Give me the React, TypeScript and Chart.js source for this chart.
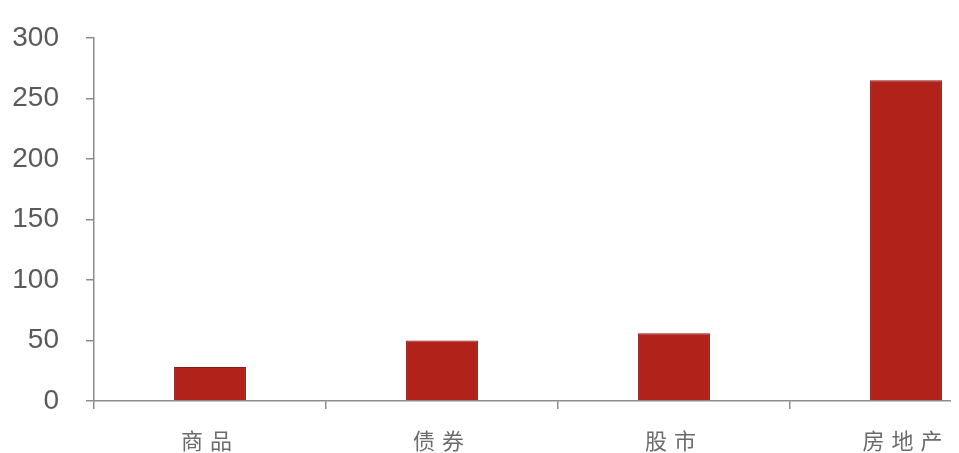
import { useEffect, useRef } from "react"
import { Chart, registerables } from "chart.js"

Chart.register(...registerables)

const categories = ["商品", "债券", "股市", "房地产"]
const values = [28, 50, 56, 265]
const yTicks = [0, 50, 100, 150, 200, 250, 300]

// spaces the x labels out a bit like the original's Song-style text
const spacingPlugin = {
  id: "labelSpacing",
  afterDatasetsDraw(chart: Chart) {
    ;(chart.ctx as any).letterSpacing = "7px"
  },
  afterDraw(chart: Chart) {
    ;(chart.ctx as any).letterSpacing = "0px"
  },
}

export default function App() {
  const canvasRef = useRef<HTMLCanvasElement>(null)
  const chartRef = useRef<Chart | null>(null)

  useEffect(() => {
    if (!canvasRef.current) return
    if (chartRef.current) chartRef.current.destroy()
    const ctx = canvasRef.current.getContext("2d")
    if (!ctx) return

    chartRef.current = new Chart(ctx, {
      type: "bar",
      data: {
        labels: categories,
        datasets: [
          {
            data: values,
            backgroundColor: "#B0221A",
            borderColor: "#8A1A14",
            borderWidth: 1,
            barPercentage: 0.31,
            categoryPercentage: 1,
          },
        ],
      },
      options: {
        animation: false,
        responsive: true,
        maintainAspectRatio: false,
        layout: { padding: { top: 30, right: 0, bottom: 0, left: 0 } },
        plugins: {
          legend: { display: false },
          tooltip: { enabled: false },
        },
        scales: {
          x: {
            offset: true,
            afterFit: (scale: any) => {
              scale.height = 52
            },
            grid: {
              offset: true,
              drawOnChartArea: false,
              drawTicks: true,
              tickLength: 8,
              color: "#8c8c8c",
              lineWidth: 1.5,
            },
            border: { color: "#8c8c8c", width: 1.5 },
            ticks: {
              z: 1,
              padding: 18,
              color: "#6b6b6b",
              font: { family: "'Noto Sans CJK SC', sans-serif", size: 22 },
            },
          },
          y: {
            min: 0,
            max: 300,
            afterFit: (scale: any) => {
              scale.width = 86
              // label padding should not push the plot area in
              scale.paddingTop = 0
              scale.paddingBottom = 0
            },
            afterBuildTicks: (scale: any) => {
              scale.ticks = yTicks.map((v) => ({ value: v }))
            },
            grid: {
              drawOnChartArea: false,
              drawTicks: true,
              tickLength: 8,
              color: "#8c8c8c",
              lineWidth: 1.5,
            },
            border: { color: "#8c8c8c", width: 1.5 },
            ticks: {
              padding: 27,
              color: "#5a5a5a",
              font: { family: "Arial, 'Liberation Sans', sans-serif", size: 28 },
            },
          },
        },
      },
      plugins: [spacingPlugin],
    })

    return () => {
      if (chartRef.current) {
        chartRef.current.destroy()
        chartRef.current = null
      }
    }
  }, [])

  return (
    <div style={{ width: 951, height: 445, overflow: "hidden" }}>
      <div style={{ width: 1014, height: 445, position: "relative" }}>
        <canvas ref={canvasRef} />
      </div>
    </div>
  )
}
